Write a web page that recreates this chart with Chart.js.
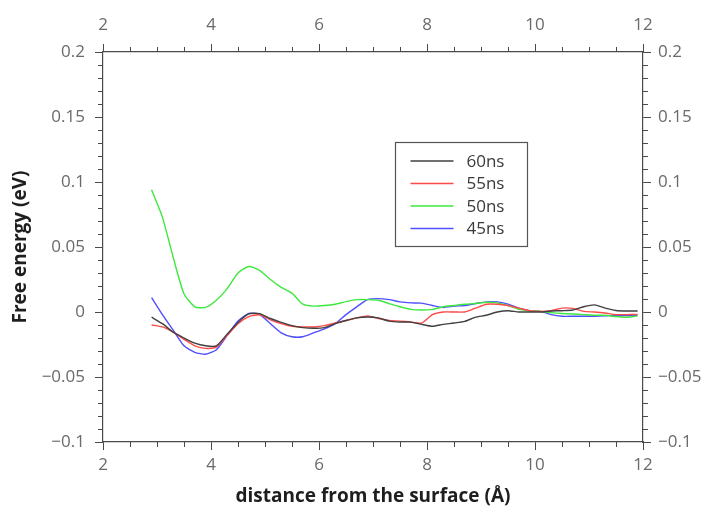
<!DOCTYPE html>
<html>
<head>
<meta charset="utf-8">
<script src="https://cdn.jsdelivr.net/npm/chart.js@4.4.1/dist/chart.umd.min.js"></script>
<style>
  html,body{margin:0;padding:0;background:#fff;}
  #wrap{width:710px;height:510px;}
</style>
</head>
<body>
<div id="wrap"><canvas id="c" width="710" height="510"></canvas></div>
<script>
// ---- data ----
const distance = [2.9,3.1,3.3,3.5,3.7,3.9,4.1,4.3,4.5,4.7,4.9,5.1,5.3,5.5,5.7,5.9,6.1,6.3,6.5,6.7,6.9,7.1,7.3,7.5,7.7,7.9,8.1,8.3,8.5,8.7,8.9,9.1,9.3,9.5,9.7,9.9,10.1,10.3,10.5,10.7,10.9,11.1,11.3,11.5,11.7,11.9];
const seriesLabels = ["60ns","55ns","50ns","45ns"];
const e60 = [-0.004,-0.009,-0.0155,-0.020,-0.024,-0.026,-0.026,-0.017,-0.008,-0.0015,-0.0012,-0.005,-0.008,-0.0105,-0.012,-0.0125,-0.012,-0.009,-0.0065,-0.0045,-0.0038,-0.0045,-0.007,-0.0077,-0.0078,-0.0095,-0.011,-0.0095,-0.0085,-0.0072,-0.004,-0.0025,0.0,0.001,0.0,0.0,0.0,0.0008,0.001,0.0015,0.004,0.0055,0.003,0.0012,0.0008,0.0008];
const e55 = [-0.010,-0.0115,-0.0155,-0.021,-0.026,-0.028,-0.027,-0.018,-0.009,-0.0035,-0.0022,-0.006,-0.009,-0.011,-0.0115,-0.0115,-0.0105,-0.0085,-0.0065,-0.0045,-0.003,-0.005,-0.0065,-0.007,-0.0077,-0.0085,-0.002,0.0,0.0,0.0,0.003,0.006,0.006,0.005,0.003,0.001,0.0005,0.001,0.003,0.0028,0.0005,0.0,-0.0008,-0.002,-0.002,-0.0018];
const e50 = [0.094,0.073,0.042,0.014,0.004,0.0035,0.009,0.018,0.030,0.035,0.032,0.025,0.019,0.0145,0.006,0.0045,0.005,0.006,0.008,0.0095,0.0095,0.009,0.0065,0.004,0.002,0.0015,0.002,0.004,0.005,0.006,0.0065,0.0075,0.007,0.005,0.002,0.001,0.0005,-0.0005,-0.0012,-0.0015,-0.002,-0.0025,-0.0025,-0.0035,-0.004,-0.003];
const e45 = [0.011,-0.002,-0.014,-0.026,-0.031,-0.0325,-0.029,-0.018,-0.007,-0.001,-0.002,-0.009,-0.016,-0.019,-0.019,-0.016,-0.013,-0.009,-0.002,0.004,0.0095,0.0103,0.0095,0.0078,0.007,0.0068,0.005,0.0035,0.0045,0.005,0.0065,0.0078,0.0078,0.006,0.003,0.001,0.0005,-0.002,-0.0033,-0.0033,-0.0033,-0.0033,-0.003,-0.0025,-0.0028,-0.0025];
const xTicks = [2,4,6,8,10,12];
const yTicks = [-0.1,-0.05,0,0.05,0.1,0.15,0.2];

// ---- style ----
const colors = ["#404040","#ff4a4a","#3ee83e","#4f4fff"];
const AXIS = "#4a4a4a";
const TICKTXT = "#6a6a6a";
const FONT = "'Open Sans', 'DejaVu Sans', sans-serif";

const seriesValues = [e60,e55,e50,e45];
const datasets = seriesValues.map((vals,i)=>({
  label: seriesLabels[i],
  data: distance.map((x,j)=>({x:x,y:vals[j]})),
  borderColor: colors[i],
  backgroundColor: colors[i],
  borderWidth: 1.4,
  pointRadius: 0,
  tension: 0.2,
  fill: false
}));

function fmtY(v){
  const r = Math.round(v*1000)/1000;
  if (Math.abs(r) < 1e-9) return "0";
  return String(r).replace("-","\u2212");
}

const minorTicks = {
  id:'minorTicks',
  afterDraw(chart){
    const ctx = chart.ctx;
    const {left,right,top,bottom} = chart.chartArea;
    const xs = chart.scales.x, ys = chart.scales.y;
    ctx.save();
    ctx.strokeStyle = AXIS; ctx.lineWidth = 1;
    ctx.beginPath();
    for (let k=0;k<=20;k++){
      const v = xs.min + k*0.5;
      if (k%4===0) continue;
      const p = Math.round(xs.getPixelForValue(v))+0.5;
      ctx.moveTo(p,bottom); ctx.lineTo(p,bottom+5);
      ctx.moveTo(p,top); ctx.lineTo(p,top-5);
    }
    for (let k=0;k<=30;k++){
      const v = ys.min + k*0.01;
      if (k%5===0) continue;
      const p = Math.round(ys.getPixelForValue(v))+0.5;
      ctx.moveTo(left,p); ctx.lineTo(left-5,p);
      ctx.moveTo(right,p); ctx.lineTo(right+5,p);
    }
    ctx.stroke();
    ctx.restore();
  }
};

const boxLegend = {
  id:'boxLegend',
  afterDraw(chart){
    const ctx = chart.ctx;
    const xs = chart.scales.x, ys = chart.scales.y;
    const bx = Math.round(xs.getPixelForValue(7.4))+0.5;
    const by = Math.round(ys.getPixelForValue(0.1305))+0.5;
    const bw = 132, bh = 104;
    ctx.save();
    ctx.fillStyle = "#fff";
    ctx.fillRect(bx,by,bw,bh);
    ctx.strokeStyle = "#555"; ctx.lineWidth = 1.2;
    ctx.strokeRect(bx,by,bw,bh);
    ctx.font = "17px " + FONT;
    ctx.textBaseline = "middle";
    chart.data.datasets.forEach((ds,i)=>{
      const cy = by + 18.5 + i*22.5;
      ctx.strokeStyle = ds.borderColor; ctx.lineWidth = 1.6;
      ctx.beginPath(); ctx.moveTo(bx+15,cy); ctx.lineTo(bx+58,cy); ctx.stroke();
      ctx.fillStyle = "#3a3a3a";
      ctx.fillText(ds.label, bx+71, cy+1);
    });
    ctx.restore();
  }
};

const tickFont = {family: FONT, size: 17};
const titleFont = {family: FONT, size: 19, weight: 'bold'};

new Chart(document.getElementById('c'), {
  type: 'line',
  data: { datasets },
  plugins: [minorTicks, boxLegend],
  options: {
    responsive: false,
    animation: false,
    layout: { padding: 0 },
    plugins: { legend: {display:false}, tooltip:{enabled:false} },
    scales: {
      x: {
        type: 'linear', position: 'bottom', min: 2, max: 12,
        afterBuildTicks: s => { s.ticks = xTicks.map(v=>({value:v})); },
        afterFit: s => { s.height = 68; },
        ticks: { color: TICKTXT, font: tickFont, padding: 5, autoSkip:false, maxRotation:0, callback: v=>String(v) },
        grid: { drawOnChartArea:false, tickLength: 8, tickColor: AXIS, tickWidth: 1 },
        border: { display:true, color: AXIS, width: 1.2 },
        title: { display:true, text:'distance from the surface (\u00C5)', color:'#1e1e1e', font:titleFont, padding:{top:0,bottom:2} }
      },
      x2: {
        type: 'linear', position: 'top', min: 2, max: 12,
        afterBuildTicks: s => { s.ticks = xTicks.map(v=>({value:v})); },
        afterFit: s => { s.height = 52; },
        ticks: { color: TICKTXT, font: tickFont, padding: 9, autoSkip:false, maxRotation:0, callback: v=>String(v) },
        grid: { drawOnChartArea:false, tickLength: 8, tickColor: AXIS, tickWidth: 1 },
        border: { display:true, color: AXIS, width: 1.2 }
      },
      y: {
        type: 'linear', position: 'left', min: -0.1, max: 0.2,
        afterBuildTicks: s => { s.ticks = yTicks.map(v=>({value:v})); },
        afterFit: s => { s.width = 103; },
        ticks: { color: TICKTXT, font: tickFont, padding: 10, autoSkip:false, callback: v=>fmtY(v) },
        grid: { drawOnChartArea:false, tickLength: 8, tickColor: AXIS, tickWidth: 1 },
        border: { display:true, color: AXIS, width: 1.2 },
        title: { display:true, text:'Free energy (eV)', color:'#1e1e1e', font:titleFont, padding:{top:9,bottom:0} }
      },
      y2: {
        type: 'linear', position: 'right', min: -0.1, max: 0.2,
        afterBuildTicks: s => { s.ticks = yTicks.map(v=>({value:v})); },
        afterFit: s => { s.width = 67; },
        ticks: { color: TICKTXT, font: tickFont, padding: 7, autoSkip:false, callback: v=>fmtY(v) },
        grid: { drawOnChartArea:false, tickLength: 8, tickColor: AXIS, tickWidth: 1 },
        border: { display:true, color: AXIS, width: 1.2 }
      }
    }
  }
});
</script>
</body>
</html>
